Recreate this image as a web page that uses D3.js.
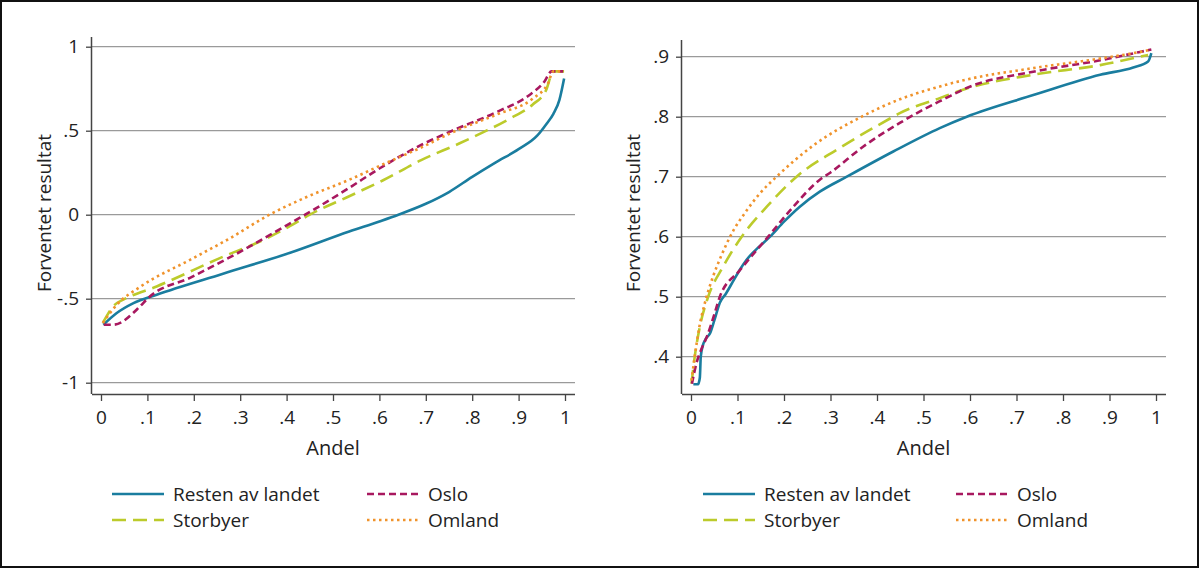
<!DOCTYPE html>
<html><head><meta charset="utf-8">
<script src="https://cdn.jsdelivr.net/npm/d3@7"></script>
<style>
body{margin:0;background:#fff;}
svg text{font-family:"Open Sans","Noto Sans",sans-serif;fill:#222;}
</style></head>
<body><svg id="c" width="1200" height="569"></svg>
<script>
const seriesNames = ["Resten av landet","Oslo","Storbyer","Omland"];
const xTicks = [0,.1,.2,.3,.4,.5,.6,.7,.8,.9,1];
const xTickLabels = ["0",".1",".2",".3",".4",".5",".6",".7",".8",".9","1"];
const leftYTicks = [-1,-.5,0,.5,1];
const leftYTickLabels = ["-1","-.5","0",".5","1"];
const rightYTicks = [.4,.5,.6,.7,.8,.9];
const rightYTickLabels = [".4",".5",".6",".7",".8",".9"];

// Left panel
const leftResten = [[0.005,-0.655],[0.034,-0.585],[0.07,-0.526],[0.12,-0.476],[0.263,-0.351],[0.406,-0.228],[0.535,-0.1],[0.6,-0.04],[0.641,0.0],[0.7,0.065],[0.75,0.135],[0.8,0.225],[0.85,0.31],[0.9,0.39],[0.94,0.47],[0.96,0.54],[0.975,0.6],[0.988,0.684],[0.998,0.81]];
const leftOslo = [[0.006,-0.655],[0.026,-0.655],[0.084,-0.546],[0.1,-0.5],[0.196,-0.37],[0.295,-0.228],[0.402,-0.06],[0.44,0.0],[0.535,0.16],[0.6,0.275],[0.69,0.415],[0.757,0.5],[0.856,0.615],[0.922,0.71],[0.955,0.79],[0.971,0.853],[0.996,0.853]];
const leftStorbyer = [[0.004,-0.644],[0.03,-0.535],[0.048,-0.506],[0.12,-0.427],[0.263,-0.25],[0.35,-0.15],[0.406,-0.07],[0.45,0.0],[0.535,0.11],[0.608,0.205],[0.69,0.325],[0.773,0.425],[0.823,0.49],[0.88,0.57],[0.93,0.655],[0.959,0.74],[0.975,0.853],[0.998,0.853]];
const leftOmland = [[0.004,-0.644],[0.034,-0.536],[0.084,-0.43],[0.191,-0.27],[0.278,-0.14],[0.363,0.0],[0.443,0.105],[0.535,0.208],[0.608,0.3],[0.69,0.4],[0.757,0.49],[0.856,0.6],[0.93,0.69],[0.963,0.78],[0.975,0.853],[0.996,0.853]];

// Right panel
const rightResten = [[0.005,0.354],[0.015,0.354],[0.019,0.365],[0.021,0.40],[0.026,0.42],[0.032,0.43],[0.041,0.439],[0.05,0.46],[0.062,0.49],[0.075,0.505],[0.09,0.525],[0.105,0.545],[0.12,0.562],[0.142,0.58],[0.17,0.60],[0.2,0.625],[0.234,0.65],[0.277,0.675],[0.335,0.70],[0.435,0.742],[0.535,0.781],[0.593,0.80],[0.736,0.836],[0.88,0.87],[0.951,0.882],[0.983,0.892],[0.99,0.906]];
const rightOslo = [[0.002,0.355],[0.012,0.39],[0.021,0.41],[0.035,0.435],[0.05,0.47],[0.062,0.50],[0.105,0.544],[0.166,0.60],[0.22,0.65],[0.277,0.695],[0.3,0.707],[0.37,0.75],[0.45,0.79],[0.5,0.812],[0.546,0.83],[0.593,0.848],[0.736,0.875],[0.88,0.894],[0.966,0.908],[0.99,0.912]];
const rightStorbyer = [[0.001,0.355],[0.008,0.40],[0.019,0.45],[0.037,0.50],[0.069,0.55],[0.109,0.60],[0.163,0.65],[0.227,0.70],[0.32,0.748],[0.428,0.797],[0.449,0.806],[0.535,0.831],[0.593,0.847],[0.736,0.87],[0.88,0.886],[0.983,0.903]];
const rightOmland = [[0.001,0.36],[0.008,0.40],[0.018,0.45],[0.03,0.49],[0.048,0.535],[0.065,0.568],[0.084,0.60],[0.12,0.644],[0.148,0.672],[0.184,0.70],[0.263,0.752],[0.367,0.80],[0.449,0.829],[0.52,0.847],[0.593,0.862],[0.736,0.881],[0.88,0.897],[0.966,0.908],[0.99,0.912]];

const colors = {"Resten av landet":"#1a7d9f","Oslo":"#a8185f","Storbyer":"#bccb2b","Omland":"#f0932c"};
const dashes = {"Resten av landet":null,"Oslo":"7,4","Storbyer":"14,7","Omland":"2.5,3.5"};

const svg = d3.select("#c");
svg.append("rect").attr("x",1).attr("y",1).attr("width",1197).attr("height",566)
  .attr("fill","#fff").attr("stroke","#111").attr("stroke-width",2);

function panel(cfg){
  const g = svg.append("g");
  const x = d3.scaleLinear().domain([0,1]).range(cfg.xr);
  const y = d3.scaleLinear().domain(cfg.yd).range(cfg.yr);
  g.selectAll(".grid").data(cfg.yTicks).join("line")
    .attr("x1",cfg.axL).attr("x2",cfg.axR).attr("y1",d=>y(d)).attr("y2",d=>y(d))
    .attr("stroke","#9a9a9a").attr("stroke-width",1.3);
  const ya = d3.axisLeft(y).tickValues(cfg.yTicks).tickSize(6).tickPadding(7)
    .tickFormat((d,i)=>cfg.yLabels[i]);
  const yg = g.append("g").attr("transform",`translate(${cfg.axL},0)`).call(ya);
  yg.select(".domain").attr("d",`M-0.5,${cfg.axT}V${cfg.axB}`);
  const xa = d3.axisBottom(x).tickValues(xTicks).tickSize(7).tickPadding(10)
    .tickFormat((d,i)=>xTickLabels[i]);
  const xg = g.append("g").attr("transform",`translate(0,${cfg.axB})`).call(xa);
  xg.select(".domain").attr("d",`M${cfg.axL},0.5H${cfg.axR}`);
  [yg,xg].forEach(a=>{
    a.selectAll(".domain").attr("stroke","#444").attr("stroke-width",1.5);
    a.selectAll(".tick line").attr("stroke","#444").attr("stroke-width",1.3);
    a.selectAll(".tick text").attr("font-size",19).attr("fill","#222")
      .attr("font-family","'Open Sans','Noto Sans',sans-serif");
  });
  const line = d3.line().x(d=>x(d[0])).y(d=>y(d[1])).curve(d3.curveMonotoneX);
  cfg.series.forEach(([name,data])=>{
    g.append("path").attr("d",line(data)).attr("fill","none")
      .attr("stroke",colors[name]).attr("stroke-width",2.6)
      .attr("stroke-dasharray",dashes[name]).attr("stroke-linejoin","round");
  });
  g.append("text").attr("x",(cfg.xr[0]+cfg.xr[1])/2).attr("y",455).attr("text-anchor","middle")
    .attr("font-size",20).text("Andel");
  g.append("text").attr("transform",`translate(${cfg.titleX},213) rotate(-90)`)
    .attr("text-anchor","middle").attr("font-size",19).text("Forventet resultat");
  const L = cfg.legend;
  const items = [["Resten av landet",L.x1,L.y1],["Oslo",L.x2,L.y1],["Storbyer",L.x1,L.y2],["Omland",L.x2,L.y2]];
  items.forEach(([name,lx,ly])=>{
    g.append("line").attr("x1",lx).attr("x2",lx+52).attr("y1",ly).attr("y2",ly)
      .attr("stroke",colors[name]).attr("stroke-width",2.6).attr("stroke-dasharray",dashes[name]);
    g.append("text").attr("x",lx+61).attr("y",ly+7).attr("font-size",19).text(name);
  });
}

panel({xr:[101,565], yd:[-1,1], yr:[382.7,46.7], axL:92, axR:575, axT:37, axB:394,
  yTicks:leftYTicks, yLabels:leftYTickLabels, titleX:51,
  legend:{x1:112,x2:367,y1:494,y2:520},
  series:[["Resten av landet",leftResten],["Storbyer",leftStorbyer],["Oslo",leftOslo],["Omland",leftOmland]]});
panel({xr:[691,1156], yd:[.4,.9], yr:[356.7,56.7], axL:682, axR:1166, axT:40, axB:394,
  yTicks:rightYTicks, yLabels:rightYTickLabels, titleX:640,
  legend:{x1:703,x2:956,y1:494,y2:520},
  series:[["Resten av landet",rightResten],["Storbyer",rightStorbyer],["Oslo",rightOslo],["Omland",rightOmland]]});
</script></body></html>
